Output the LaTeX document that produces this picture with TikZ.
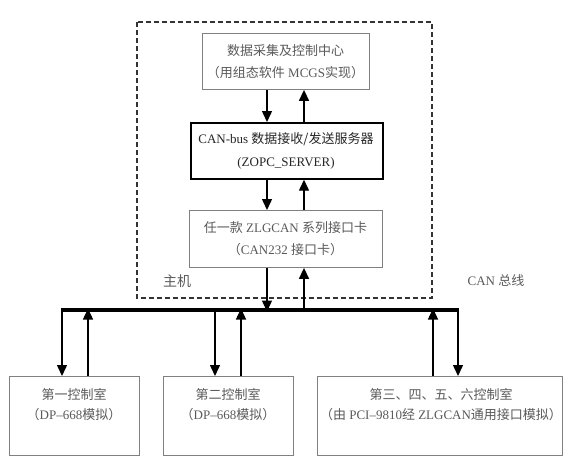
\documentclass[tikz,border=0pt]{standalone}
\usepackage{fontspec}
\setmainfont{Liberation Serif}
\newfontfamily\cjk{Noto Sans CJK SC}
\usetikzlibrary{arrows.meta}
\definecolor{boxgray}{RGB}{128,128,128}
\definecolor{txtgray}{RGB}{90,90,90}
\tikzset{
  lbox/.style={draw=boxgray, line width=0.9pt, rectangle, inner sep=0pt, anchor=north west},
  hbox/.style={draw=black, line width=1.7pt, rectangle, inner sep=0pt, anchor=north west},
  txt/.style={text=txtgray, align=center, inner sep=0pt, font=\fontsize{13}{22}\selectfont},
  htxt/.style={text=black!85, align=center, inner sep=0pt, font=\fontsize{13}{23}\selectfont},
  arr/.style={line width=1.4pt, -{Triangle[width=10pt,length=11pt]}},
  busline/.style={line width=3.2pt},
  hostbox/.style={draw=black!80, line width=1.2pt, dash pattern=on 5pt off 3pt}
}
\begin{document}
\begin{tikzpicture}[x=1pt,y=-1pt]
\useasboundingbox (0,0) rectangle (569,467);
\fill[white] (0,0) rectangle (569,467);

% host (dashed) boundary
\draw[hostbox] (137,22) rectangle (432,298);

% boxes
\node[lbox, minimum width=167pt, minimum height=56pt] (top) at (202,33) {};
\node[hbox, minimum width=192pt, minimum height=56pt] (can) at (190,122) {};
\node[lbox, minimum width=193pt, minimum height=57pt] (zlg) at (189,210) {};
\node[lbox, minimum width=130pt, minimum height=79pt] (b1) at (9,376) {};
\node[lbox, minimum width=130pt, minimum height=79pt] (b2) at (163,376) {};
\node[lbox, minimum width=245pt, minimum height=79pt] (b3) at (317,376) {};

% texts
\node[txt] (ttop) at (285.5,62) {{\cjk 数据采集及控制中心}\\{\cjk （用组态软件} MCGS{\cjk 实现）}};
\node[htxt] (tcan) at (286,151) {CAN-bus {\cjk 数据接收/发送服务器}\\(ZOPC\_SERVER)};
\node[txt] (tzlg) at (285.5,239) {{\cjk 任一款} ZLGCAN {\cjk 系列接口卡}\\{\cjk （}CAN232 {\cjk 接口卡）}};
\node[txt, font=\fontsize{13}{20}\selectfont] (tb1) at (74,405) {{\cjk 第一控制室}\\{\cjk （}DP–668{\cjk 模拟）}};
\node[txt, font=\fontsize{13}{20}\selectfont] (tb2) at (228,405) {{\cjk 第二控制室}\\{\cjk （}DP–668{\cjk 模拟）}};
\node[txt, font=\fontsize{13}{20}\selectfont] (tb3) at (441,405) {{\cjk 第三、四、五、六控制室}\\{\cjk （由} PCI–9810{\cjk 经} ZLGCAN{\cjk 通用接口模拟）}};
\node[text=txtgray, font=\fontsize{14}{16}\selectfont\cjk] (host) at (177,281) {主机};
\node[text=txtgray, font=\fontsize{13}{15}\selectfont] (buslbl) at (496,281) {CAN {\cjk 总线}};

% x positions
\coordinate (xa) at (267,0);
\coordinate (xb) at (304,0);
\coordinate (busL) at (60.5,310);
\coordinate (busR) at (459,310);
\coordinate (x1d) at (62,0);
\coordinate (x1u) at (88,0);
\coordinate (x2d) at (215,0);
\coordinate (x2u) at (241,0);
\coordinate (x3u) at (433,0);
\coordinate (x3d) at (458,0);

% upper arrows
\draw[arr] (top.south -| xa) -- (can.north -| xa);
\draw[arr] (can.north -| xb) -- (top.south -| xb);
\draw[arr] (can.south -| xa) -- (zlg.north -| xa);
\draw[arr] (zlg.north -| xb) -- (can.south -| xb);

% bus
\draw[busline] (busL) -- (busR);
\draw[arr] (zlg.south -| xa) -- ([yshift=-1.5pt]busL -| xa);
\draw[arr] ([yshift=-1.5pt]busL -| xb) -- (zlg.south -| xb);

% lower arrows
\draw[arr] ([yshift=-1.5pt]busL -| x1d) -- (b1.north -| x1d);
\draw[arr] (b1.north -| x1u) -- ([yshift=1.5pt]busL -| x1u);
\draw[arr] (busL -| x2d) -- (b2.north -| x2d);
\draw[arr] (b2.north -| x2u) -- ([yshift=1.5pt]busL -| x2u);
\draw[arr] (b3.north -| x3u) -- ([yshift=1.5pt]busL -| x3u);
\draw[arr] ([yshift=-1.5pt]busL -| x3d) -- (b3.north -| x3d);
\end{tikzpicture}
\end{document}
